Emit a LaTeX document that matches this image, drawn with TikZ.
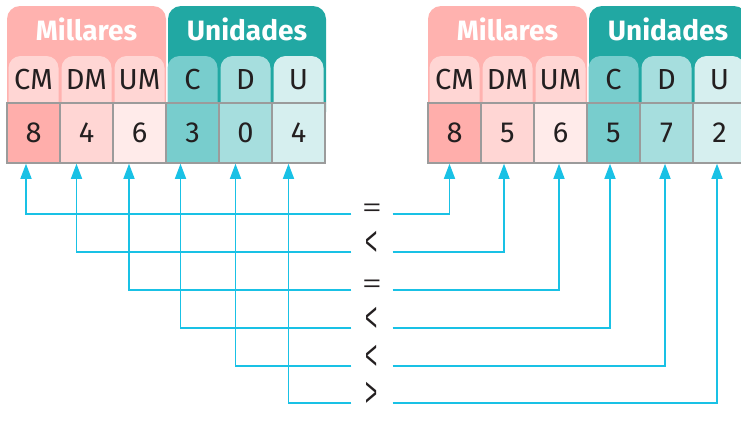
\documentclass[tikz,border=0pt]{standalone}
\usepackage{fontspec}
\usepackage{graphicx}
\setmainfont{Fira Sans}
\newfontfamily\symfont{Liberation Sans}
\usetikzlibrary{arrows.meta}
\definecolor{millH}{HTML}{FFB2AF}
\definecolor{millSub}{HTML}{FFD6D4}
\definecolor{cCM}{HTML}{FFAEAB}
\definecolor{cDM}{HTML}{FFD6D4}
\definecolor{cUM}{HTML}{FFEBEA}
\definecolor{uniH}{HTML}{21A8A3}
\definecolor{cC}{HTML}{78CDCD}
\definecolor{cD}{HTML}{A6DEDE}
\definecolor{cU}{HTML}{D6EFEF}
\definecolor{grid}{HTML}{9B9B9B}
\definecolor{cyanline}{HTML}{19C1E5}
\definecolor{ink}{HTML}{231F20}
\newcommand\drawplacetable[3]{%
 \begin{scope}[shift={(#1,0)}]
  \fill[millH, rounded corners=13pt] (0,6) rectangle (159,125);
  \fill[uniH, rounded corners=13pt] (161,6) rectangle (319,125);
  \node[titletext] (#2mill) at (79.5,40) {Millares};
  \node[titletext] (#2uni) at (240,40) {Unidades};
  \foreach \i/\lab/\col in {0/CM/millSub,1/DM/millSub,2/UM/millSub,3/C/cC,4/D/cD,5/U/cU} {
    \fill[\col, rounded corners=12pt] (\i*53+1.5,56) rectangle (\i*53+51.5,125);
    \node[subtext] (#2h\i) at (\i*53+26.5,89) {\lab};
  }
  \foreach \i/\d/\col in {#3} {
    \node[cellbox, fill=\col] (#2c\i) at (\i*53+26.5,133) {\d};
  }
 \end{scope}}
\newcommand\lessmark{\raisebox{-3pt}[7pt][7pt]{\scalebox{0.8}[1.6]{<}}}
\newcommand\moremark{\raisebox{-3pt}[7pt][7pt]{\scalebox{0.8}[1.6]{>}}}
\newcommand\eqmark{\raisebox{0pt}[5pt][2pt]{\scalebox{1.2}[0.9]{=}}}
\begin{document}
\begin{tikzpicture}[x=1pt,y=-1pt,
  titletext/.style={anchor=base, inner sep=0pt, text=white, font=\fontsize{28}{28}\selectfont\bfseries},
  subtext/.style={anchor=base, inner sep=0pt, text=ink, font=\fontsize{29}{29}\selectfont},
  cellbox/.style={draw=grid, line width=1.5pt, minimum width=53pt, minimum height=60pt, inner sep=0pt, text=ink, font=\fontsize{29}{29}\selectfont},
  symb/.style={minimum width=41pt, inner sep=0pt, text=ink, font=\fontsize{26}{26}\symfont},
  conn/.style={draw=cyanline, line width=1.5pt, -{Triangle[width=11pt,length=15pt]}, color=cyanline}]
\useasboundingbox (0,0) rectangle (741,421);
\clip (0,0) rectangle (741,421);
\drawplacetable{7}{L}{0/8/cCM,1/4/cDM,2/6/cUM,3/3/cC,4/0/cD,5/4/cU}
\drawplacetable{428}{R}{0/8/cCM,1/5/cDM,2/6/cUM,3/5/cC,4/7/cD,5/2/cU}
% comparison symbols
\node[symb] (s1) at (372,214) {\eqmark};
\node[symb] (s2) at (372,252) {\lessmark};
\node[symb] (s3) at (372,290) {\eqmark};
\node[symb] (s4) at (372,328) {\lessmark};
\node[symb] (s5) at (372,366) {\lessmark};
\node[symb] (s6) at (372,403) {\moremark};
% connectors
\draw[conn] (s1.west) -| ([xshift=-7.5pt]Lc0.south);
\draw[conn] (s2.west) -| ([xshift=-10pt]Lc1.south);
\draw[conn] (s3.west) -| ([xshift=-10.5pt]Lc2.south);
\draw[conn] (s4.west) -| ([xshift=-12pt]Lc3.south);
\draw[conn] (s5.west) -| ([xshift=-10pt]Lc4.south);
\draw[conn] (s6.west) -| ([xshift=-10pt]Lc5.south);
\draw[conn] (s1.east) -| ([xshift=-5pt]Rc0.south);
\draw[conn] (s2.east) -| ([xshift=-3.5pt]Rc1.south);
\draw[conn] (s3.east) -| ([xshift=-1.5pt]Rc2.south);
\draw[conn] (s4.east) -| ([xshift=-3.5pt]Rc3.south);
\draw[conn] (s5.east) -| ([xshift=-1.5pt]Rc4.south);
\draw[conn] (s6.east) -| ([xshift=-2.5pt]Rc5.south);
\end{tikzpicture}
\end{document}
